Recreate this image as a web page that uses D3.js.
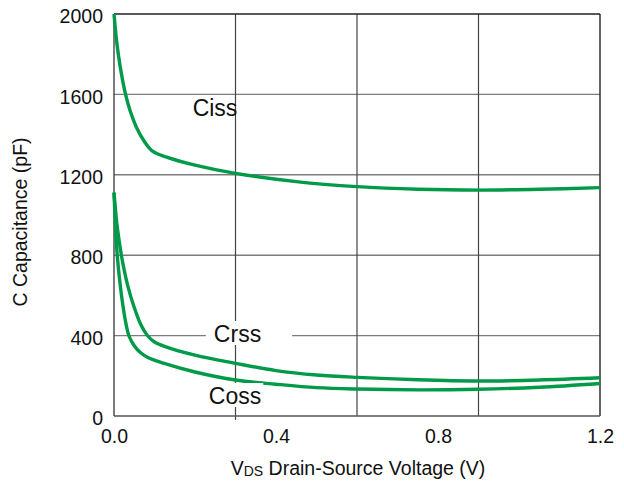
<!DOCTYPE html>
<html>
<head>
<meta charset="utf-8">
<script src="https://cdn.jsdelivr.net/npm/d3@7"></script>
<style>
  html, body { margin: 0; padding: 0; background: #fff; }
  svg { display: block; font-family: "Liberation Sans", Arial, sans-serif; }
</style>
</head>
<body>
<svg id="chart" width="624" height="487"></svg>
<script>
// Capacitance vs drain-source voltage
const cissV = [0, 0.007, 0.015, 0.028, 0.04, 0.055, 0.075, 0.095, 0.13, 0.2, 0.3, 0.45, 0.6, 0.75, 0.9, 1.05, 1.2];
const cissC = [2000, 1856, 1742, 1605, 1517, 1438, 1366, 1318, 1288, 1248, 1207, 1166, 1141, 1128, 1124, 1128, 1136];

const crssV = [0, 0.004, 0.008, 0.02, 0.035, 0.05, 0.065, 0.082, 0.1, 0.13, 0.2, 0.3, 0.4, 0.5, 0.6, 0.75, 0.9, 1.05, 1.2];
const crssC = [1111, 1020, 940, 780, 640, 540, 460, 402, 368, 343, 303, 262, 226, 204, 192, 180, 174, 179, 190];

const cossV = [0, 0.004, 0.008, 0.014, 0.022, 0.03, 0.037, 0.05, 0.065, 0.085, 0.124, 0.2, 0.3, 0.4, 0.5, 0.6, 0.75, 0.9, 1.05, 1.2];
const cossC = [1111, 930, 800, 675, 550, 455, 398, 350, 316, 290, 262, 219, 179, 158, 141, 134, 130, 133, 143, 162];

const xTickLabels = [0.0, 0.4, 0.8, 1.2];
const xGridValues = [0.3, 0.6, 0.9];
const yTickValues = [0, 400, 800, 1200, 1600, 2000];

const seriesNames = ["Ciss", "Crss", "Coss"];

const svg = d3.select("#chart");
const margin = { left: 114, top: 14, right: 24, bottom: 71 };
const W = 624 - margin.left - margin.right;
const H = 487 - margin.top - margin.bottom;

const x = d3.scaleLinear().domain([0, 1.2]).range([0, W]);
const y = d3.scaleLinear().domain([0, 2000]).range([H, 0]);

const g = svg.append("g").attr("transform", `translate(${margin.left},${margin.top})`);

// horizontal grid lines
g.append("g").selectAll("line").data(yTickValues.filter(v => v > 0 && v < 2000)).join("line")
  .attr("x1", 0).attr("x2", W)
  .attr("y1", d => y(d)).attr("y2", d => y(d))
  .attr("stroke", "#7c7c7c").attr("stroke-width", 1.4);

// vertical grid lines
g.append("g").selectAll("line").data(xGridValues).join("line")
  .attr("x1", d => x(d)).attr("x2", d => x(d))
  .attr("y1", 0).attr("y2", H)
  .attr("stroke", "#444").attr("stroke-width", 1.2);

// small tick below the axis at the first vertical grid line
g.append("line")
  .attr("x1", x(xGridValues[0])).attr("x2", x(xGridValues[0]))
  .attr("y1", H).attr("y2", H + 4)
  .attr("stroke", "#444").attr("stroke-width", 1.2);

// frame
g.append("line").attr("x1", 0).attr("x2", W).attr("y1", 0).attr("y2", 0)
  .attr("stroke", "#222").attr("stroke-width", 1.4);
g.append("line").attr("x1", W).attr("x2", W).attr("y1", 0).attr("y2", H)
  .attr("stroke", "#222").attr("stroke-width", 1.4);
g.append("line").attr("x1", 0).attr("x2", W).attr("y1", H).attr("y2", H)
  .attr("stroke", "#555").attr("stroke-width", 1.6);
g.append("line").attr("x1", 0).attr("x2", 0).attr("y1", 0).attr("y2", H)
  .attr("stroke", "#444").attr("stroke-width", 1.4);

// axes (labels only)
const yAxis = g.append("g").call(d3.axisLeft(y).tickValues(yTickValues).tickSize(0).tickPadding(11).tickFormat(d3.format("d")));
yAxis.select(".domain").remove();
yAxis.selectAll("text").attr("font-size", 19.5).attr("fill", "#111").attr("font-family", null).attr("dy", "0.45em");

const xAxis = g.append("g").attr("transform", `translate(0,${H})`)
  .call(d3.axisBottom(x).tickValues(xTickLabels).tickSize(0).tickPadding(13).tickFormat(d3.format(".1f")));
xAxis.select(".domain").remove();
xAxis.selectAll("text").attr("font-size", 19.5).attr("fill", "#111").attr("font-family", null);

// axis titles
svg.append("text")
  .attr("transform", `translate(27,${margin.top + H / 2 + 7}) rotate(-90)`)
  .attr("text-anchor", "middle")
  .attr("font-size", 19.5).attr("fill", "#111")
  .text("C Capacitance (pF)");

const xt = svg.append("text")
  .attr("x", margin.left + W / 2 + 1).attr("y", 475)
  .attr("text-anchor", "middle")
  .attr("font-size", 19.5).attr("fill", "#111");
xt.append("tspan").text("V");
xt.append("tspan").attr("font-size", 14).attr("dy", 1).text("DS");
xt.append("tspan").attr("dy", -1).text(" Drain-Source Voltage (V)");

// curves
const line = d3.line().x(d => x(d[0])).y(d => y(d[1])).curve(d3.curveCatmullRom.alpha(0.5));
const series = [
  d3.zip(cissV, cissC),
  d3.zip(crssV, crssC),
  d3.zip(cossV, cossC)
];
g.append("g").selectAll("path").data(series).join("path")
  .attr("d", line)
  .attr("fill", "none")
  .attr("stroke", "#009a48")
  .attr("stroke-width", 3.4)
  .attr("stroke-linejoin", "round");

// curve labels
const labelSpec = [
  { name: seriesNames[0], cx: 215, base: 116, bg: false, padL: 0, padR: 0 },
  { name: seriesNames[1], cx: 237.5, base: 342, bg: true, padL: 8, padR: 31 },
  { name: seriesNames[2], cx: 235, base: 404, bg: true, padL: 2, padR: 2 }
];
labelSpec.forEach(s => {
  const grp = svg.append("g");
  const t = grp.append("text")
    .attr("x", s.cx).attr("y", s.base)
    .attr("text-anchor", "middle")
    .attr("font-size", 23).attr("fill", "#111")
    .text(s.name);
  if (s.bg) {
    const b = t.node().getBBox();
    grp.insert("rect", "text")
      .attr("x", b.x - s.padL).attr("y", b.y)
      .attr("width", b.width + s.padL + s.padR).attr("height", b.height - 2)
      .attr("fill", "#fff");
  }
});
</script>
</body>
</html>
